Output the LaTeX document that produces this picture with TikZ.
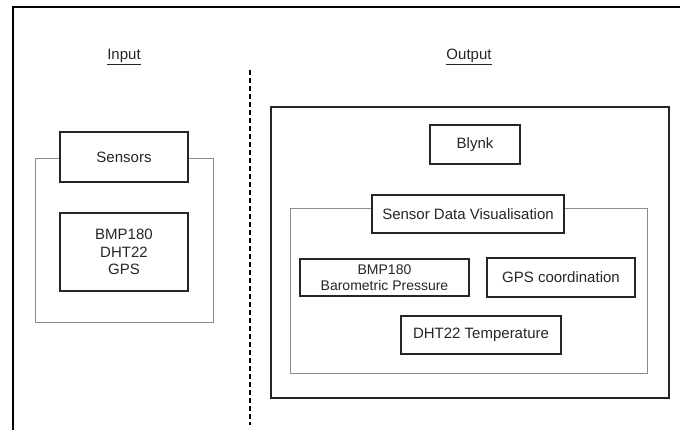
\documentclass[tikz,border=0pt]{standalone}
\usepackage{fontspec}
\setmainfont{Liberation Sans}
\usetikzlibrary{positioning}

\begin{document}
\begin{tikzpicture}[x=1pt,y=-1pt,
    txt/.style={font=\fontsize{15}{17.5}\selectfont, text=black!85},
    unit/.style={txt, draw=black!85, line width=1.3pt, fill=white, align=center, inner sep=0pt},
    group/.style={draw=black!45, line width=0.8pt},
    outer/.style={draw=black!85, line width=1.5pt}]
    \useasboundingbox (0,0) rectangle (680,430);

    % Frame and divider
    \draw[line width=2pt] (13,430) -- (13,7) -- (680,7);
    \draw[line width=2pt, dash pattern=on 5pt off 3pt] (250,70) -- (250,425);

    % Headings
    \node[txt] (inlabel) at (124,57) {\underline{Input}};
    \node[txt] (outlabel) at (469,57) {\underline{Output}};

    % Input side
    \draw[group] (35,158) rectangle (213,322);
    \node[unit, minimum width=128, minimum height=50] (sensors) at (124,157) {Sensors};
    \node[unit, minimum width=128, minimum height=78] (sensorlist) at (124,252) {BMP180\\DHT22\\GPS};

    % Output side
    \draw[outer] (271,107) rectangle (669,398);
    \node[unit, minimum width=90, minimum height=39] (blynk) at (475,144.5) {Blynk};
    \draw[group] (290,208) rectangle (647,373);
    \node[unit, minimum width=192, minimum height=38] (visual) at (468,214) {Sensor Data Visualisation};
    \node[unit, minimum width=169, minimum height=37,
          font=\fontsize{14}{16}\selectfont] (bmp) at (384.5,277.5) {BMP180\\Barometric Pressure};
    \node[unit, minimum width=148, minimum height=39] (gps) at (561,277.5) {GPS coordination};
    \node[unit, minimum width=160, minimum height=38] (dht) at (481,335) {DHT22 Temperature};
\end{tikzpicture}
\end{document}
